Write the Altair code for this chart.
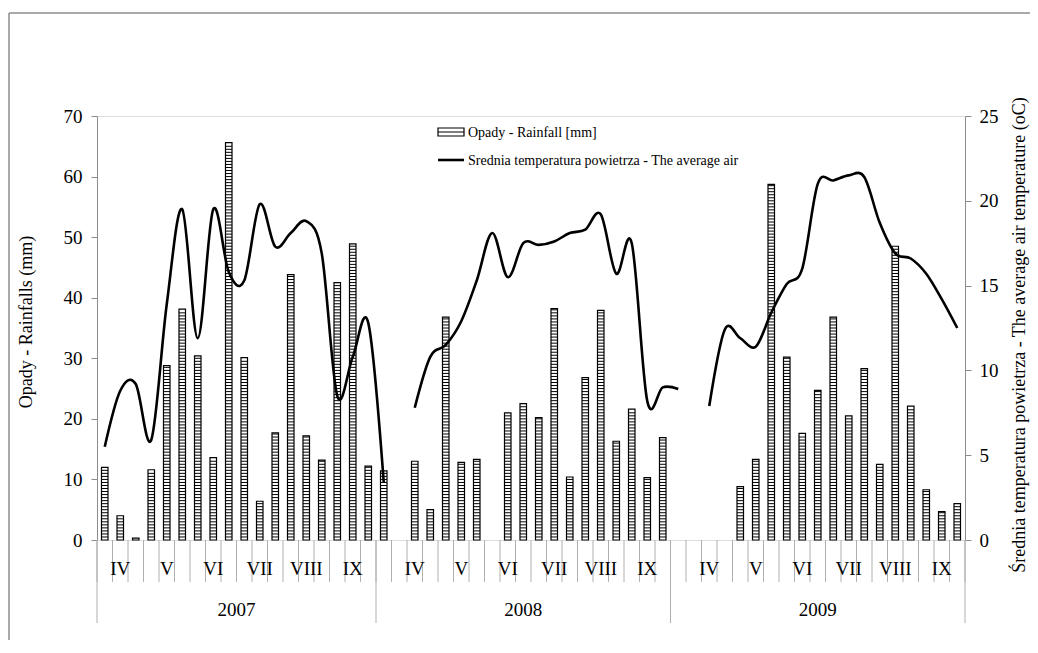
import altair as alt
import pandas as pd

# ---- data (56 decade slots: 2007 = 18, 2008 = 19, 2009 = 19) ----
rain = [12.0, 4.0, 0.3, 11.6, 28.8, 38.1, 30.4, 13.6, 65.6, 30.1, 6.4, 17.7, 43.8, 17.2, 13.2, 42.5, 48.9, 12.2,
        11.4, None, 13.0, 5.0, 36.8, 12.8, 13.3, None, 21.0, 22.5, 20.2, 38.2, 10.4, 26.8, 37.9, 16.3, 21.6, 10.3, 16.9,
        None, None, None, None, 8.8, 13.3, 58.7, 30.2, 17.6, 24.7, 36.8, 20.5, 28.3, 12.5, 48.5, 22.1, 8.3, 4.7, 6.0]
temp = [5.5, 8.8, 9.2, 5.9, 13.9, 19.5, 11.9, 19.5, 15.8, 15.3, 19.8, 17.3, 18.1, 18.8, 16.9, 8.5, 10.8, 12.8, 3.4,
        None,
        7.8, 10.8, 11.5, 12.9, 15.3, 18.1, 15.5, 17.5, 17.4, 17.6, 18.1, 18.3, 19.2, 15.7, 17.5, 8.2, 9.0, 8.9,
        None,
        7.9, 12.4, 11.9, 11.4, 13.4, 15.1, 16.0, 21.0, 21.2, 21.5, 21.4, 18.7, 16.9, 16.6, 15.7, 14.2, 12.5]
months = ["IV", "V", "VI", "VII", "VIII", "IX"]
month_first_slot = [0, 19, 38]          # first slot of April in each year block
years = ["2007", "2008", "2009"]
year_bounds = [0, 18, 37, 56]

n = len(rain)
slots = list(range(n))

bars = pd.DataFrame({"slot": slots, "rain": rain}).dropna()
bars["x0"] = bars["slot"] + 0.29
bars["x1"] = bars["slot"] + 0.71
bars["base"] = 0.0

# horizontal hatching of the bars (pattern only)
pitch = 0.5
stripe_rows = []
for _, r in bars.iterrows():
    k = 1
    while k * pitch < r["rain"] - 0.15:
        stripe_rows.append({"x0": r["x0"], "x1": r["x1"], "lev": k * pitch})
        k += 1
stripes = pd.DataFrame(stripe_rows)

tdf = pd.DataFrame({"slot": slots, "temp": temp})
tdf["seg"] = tdf["temp"].isna().cumsum()
tdf = tdf.dropna()
tdf["xc"] = tdf["slot"] + 0.5

mlab = pd.DataFrame([{"pos": s + 3 * i + 1.5, "label": m}
                     for s in month_first_slot for i, m in enumerate(months)])
ylab = pd.DataFrame({"pos": [(year_bounds[i] + year_bounds[i + 1]) / 2 for i in range(3)], "label": years})
ydiv = pd.DataFrame({"pos": year_bounds})
sdiv = pd.DataFrame({"pos": list(range(n + 1))})

FONT = "Liberation Serif"
GREY = "#8c8c8c"
TICKC = "#b0b0b0"
xscale = alt.Scale(domain=[0, n], nice=False, zero=False)
rscale = alt.Scale(domain=[0, 70], nice=False)

bar_layer = alt.Chart(bars).mark_bar(fill="white", stroke="black", strokeWidth=1.2).encode(
    x=alt.X("x0:Q", scale=xscale, axis=None),
    x2="x1:Q",
    y=alt.Y("rain:Q", scale=rscale,
            axis=alt.Axis(values=list(range(0, 71, 10)), title=None, grid=False, domainColor=GREY,
                          tickColor=GREY, tickSize=6, labelFont=FONT, labelFontSize=19,
                          labelColor="black", labelPadding=9)),
    y2="base:Q",
)

stripe_layer = alt.Chart(stripes).mark_rule(stroke="black", strokeWidth=1).encode(
    x=alt.X("x0:Q", scale=xscale, axis=None),
    x2="x1:Q",
    y=alt.Y("lev:Q", scale=rscale, axis=None),
)

line_layer = alt.Chart(tdf).mark_line(color="black", strokeWidth=2.6, interpolate="cardinal").encode(
    x=alt.X("xc:Q", scale=xscale, axis=None),
    y=alt.Y("temp:Q", scale=alt.Scale(domain=[0, 25], nice=False),
            axis=alt.Axis(orient="right", values=list(range(0, 26, 5)), title=None, grid=False,
                          domainColor=GREY, tickColor=GREY, tickSize=6, labelFont=FONT,
                          labelFontSize=19, labelColor="black", labelPadding=8)),
    detail="seg:N",
)

slot_rules = alt.Chart(sdiv).mark_rule(color=TICKC, strokeWidth=1).encode(
    x=alt.X("pos:Q", scale=xscale, axis=None), y=alt.value(424), y2=alt.value(466))
year_rules = alt.Chart(ydiv).mark_rule(color=TICKC, strokeWidth=1).encode(
    x=alt.X("pos:Q", scale=xscale, axis=None), y=alt.value(424), y2=alt.value(507))
month_text = alt.Chart(mlab).mark_text(font=FONT, fontSize=19, baseline="middle").encode(
    x=alt.X("pos:Q", scale=xscale, axis=None), y=alt.value(453), text="label:N")
year_text = alt.Chart(ylab).mark_text(font=FONT, fontSize=19, baseline="middle").encode(
    x=alt.X("pos:Q", scale=xscale, axis=None), y=alt.value(494), text="label:N")

one = pd.DataFrame({"a": [0]})
left_title = alt.Chart(one).mark_text(font=FONT, fontSize=18, angle=270, baseline="middle").encode(
    x=alt.value(-70), y=alt.value(206), text=alt.value("Opady - Rainfalls (mm)"))
right_title = alt.Chart(one).mark_text(font=FONT, fontSize=18, angle=270, baseline="middle").encode(
    x=alt.value(923), y=alt.value(219),
    text=alt.value("Średnia temperatura powietrza - The average air temperature (oC)"))

leg_box = alt.Chart(one).mark_rect(fill="white", stroke="black", strokeWidth=1.2).encode(
    x=alt.value(341), x2=alt.value(367), y=alt.value(12), y2=alt.value(20))
leg_box_mid = alt.Chart(one).mark_rule(color="black", strokeWidth=1).encode(
    x=alt.value(341), x2=alt.value(367), y=alt.value(16))
leg_line = alt.Chart(one).mark_rule(color="black", strokeWidth=2.6).encode(
    x=alt.value(341), x2=alt.value(367), y=alt.value(44))
leg_t1 = alt.Chart(one).mark_text(font=FONT, fontSize=14, align="left", baseline="middle").encode(
    x=alt.value(371), y=alt.value(17), text=alt.value("Opady - Rainfall [mm]"))
leg_t2 = alt.Chart(one).mark_text(font=FONT, fontSize=14, align="left", baseline="middle").encode(
    x=alt.value(371), y=alt.value(45), text=alt.value("Srednia temperatura powietrza - The average air"))

frame_top = alt.Chart(one).mark_rule(color=GREY, strokeWidth=1.5).encode(
    x=alt.value(-88), x2=alt.value(940), y=alt.value(-103))
frame_left = alt.Chart(one).mark_rule(color=GREY, strokeWidth=1.5).encode(
    x=alt.value(-88), y=alt.value(-103), y2=alt.value(530))

chart = alt.layer(
    slot_rules, year_rules,
    bar_layer, stripe_layer, line_layer,
    month_text, year_text,
    left_title, right_title,
    leg_box, leg_box_mid, leg_line, leg_t1, leg_t2,
    frame_top, frame_left,
).resolve_scale(y="independent").properties(
    width=868, height=424,
    autosize=alt.AutoSizeParams(type="none"),
    padding={"left": 89, "top": 108, "right": 65, "bottom": 100},
).configure_view(stroke=GREY, strokeWidth=1).configure(font=FONT)

chart.save("out.html", embed_options={"renderer": "svg", "actions": False})
